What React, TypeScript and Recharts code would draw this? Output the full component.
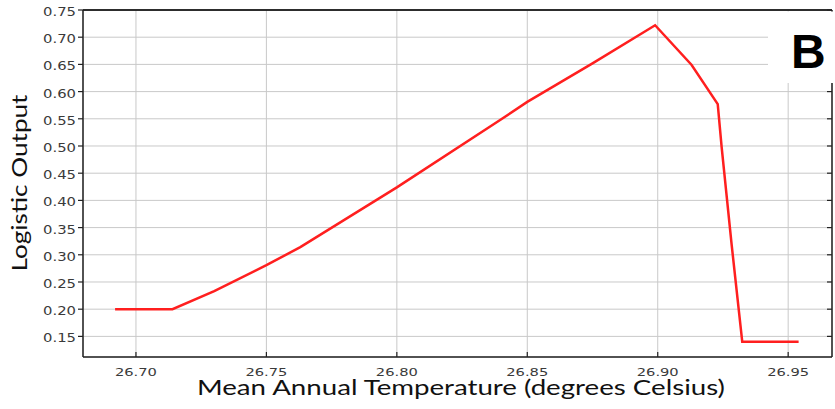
import React from 'react';
import { LineChart, Line, XAxis, YAxis, CartesianGrid, ReferenceLine } from 'recharts';

// Response curve: logistic output against mean annual temperature
const temperatures = [
  26.692, 26.714, 26.73, 26.75, 26.763, 26.8, 26.839, 26.85, 26.875, 26.899,
  26.913, 26.923, 26.9245, 26.9283, 26.9324, 26.954,
];
const logisticOutput = [
  0.2, 0.2, 0.233, 0.281, 0.314, 0.424, 0.546, 0.581, 0.652, 0.722,
  0.649, 0.577, 0.498, 0.32, 0.14, 0.14,
];

const xTicks = [26.7, 26.75, 26.8, 26.85, 26.9, 26.95];
const yTicks = [0.15, 0.2, 0.25, 0.3, 0.35, 0.4, 0.45, 0.5, 0.55, 0.6, 0.65, 0.7, 0.75];

const xDomain: [number, number] = [26.6797, 26.9668];
const yDomain: [number, number] = [0.1121, 0.75];
const yTop = yDomain[1];

const chartData = temperatures.map((t, i) => ({ temp: t, output: logisticOutput[i] }));

const AXIS = '#222';
const TICK_TEXT = '#3a3a3a';

const BottomTick = (props: any) => {
  const { x, y, payload } = props;
  return (
    <g>
      <line x1={x} y1={y} x2={x} y2={y - 5} stroke={AXIS} strokeWidth={1.2} />
      <text
        x={x}
        y={y + 19}
        textAnchor="middle"
        fontSize={11}
        fontFamily="DejaVu Sans"
        fill={TICK_TEXT}
        textLength={42}
        lengthAdjust="spacingAndGlyphs"
      >
        {Number(payload.value).toFixed(2)}
      </text>
    </g>
  );
};

const TopTick = (props: any) => {
  const { x, y } = props;
  return <line x1={x} y1={y} x2={x} y2={y + 5} stroke={AXIS} strokeWidth={1.2} />;
};

const LeftTick = (props: any) => {
  const { x, y, payload } = props;
  return (
    <g>
      <line x1={x} y1={y} x2={x - 5} y2={y} stroke={AXIS} strokeWidth={1.2} />
      <text
        x={x - 7}
        y={y + 6}
        textAnchor="end"
        fontSize={13}
        fontFamily="DejaVu Sans"
        fill={TICK_TEXT}
        textLength={33}
        lengthAdjust="spacingAndGlyphs"
      >
        {Number(payload.value).toFixed(2)}
      </text>
    </g>
  );
};

const RightTick = (props: any) => {
  const { x, y } = props;
  return <line x1={x} y1={y} x2={x - 5} y2={y} stroke={AXIS} strokeWidth={1.2} />;
};

export default function App() {
  return (
    <div style={{ position: 'absolute', left: 0, top: 0, width: 835, height: 409, background: '#fff' }}>
      <LineChart
        width={835}
        height={409}
        data={chartData}
        margin={{ top: 9, right: 2, bottom: 0, left: 0 }}
      >
        <CartesianGrid stroke="#c9c9c9" strokeWidth={1} />
        <XAxis
          dataKey="temp"
          type="number"
          domain={xDomain}
          ticks={xTicks}
          allowDataOverflow
          height={52}
          tickSize={0}
          tickMargin={0}
          tick={BottomTick}
          axisLine={{ stroke: AXIS, strokeWidth: 1.5 }}
          interval={0}
        />
        <XAxis
          xAxisId="top"
          orientation="top"
          type="number"
          domain={xDomain}
          ticks={xTicks}
          allowDataOverflow
          height={1}
          tickSize={0}
          tickMargin={0}
          tick={TopTick}
          axisLine={{ stroke: AXIS, strokeWidth: 1.5 }}
          interval={0}
        />
        <YAxis
          type="number"
          domain={yDomain}
          ticks={yTicks}
          allowDataOverflow
          width={83}
          tickSize={0}
          tickMargin={0}
          tick={LeftTick}
          axisLine={{ stroke: AXIS, strokeWidth: 1.5 }}
          interval={0}
        />
        <YAxis
          yAxisId="right"
          orientation="right"
          type="number"
          domain={yDomain}
          ticks={yTicks}
          allowDataOverflow
          width={1}
          tickSize={0}
          tickMargin={0}
          tick={RightTick}
          axisLine={{ stroke: AXIS, strokeWidth: 1.5 }}
          interval={0}
        />
        <ReferenceLine y={yTop} stroke={AXIS} strokeWidth={1.5} ifOverflow="visible" />
        <Line
          dataKey="output"
          type="linear"
          stroke="#ff1f1f"
          strokeWidth={2.5}
          dot={false}
          isAnimationActive={false}
        />
      </LineChart>
      <svg
        width={835}
        height={409}
        style={{ position: 'absolute', left: 0, top: 0, pointerEvents: 'none' }}
      >
        <rect x={768} y={11.5} width={67} height={71.5} fill="#fff" />
        <text x={791} y={68} fontSize={48} fontWeight="bold" fontFamily="Liberation Sans" fill="#000">
          B
        </text>
        <text
          transform="translate(27,183) rotate(-90)"
          textAnchor="middle"
          fontSize={22}
          fontFamily="Lato"
          fill="#111"
          textLength={177}
          lengthAdjust="spacingAndGlyphs"
        >
          Logistic Output
        </text>
        <text
          x={197}
          y={395}
          fontSize={21}
          fontFamily="Lato"
          fill="#111"
          textLength={528}
          lengthAdjust="spacingAndGlyphs"
        >
          Mean Annual Temperature (degrees Celsius)
        </text>
      </svg>
    </div>
  );
}
